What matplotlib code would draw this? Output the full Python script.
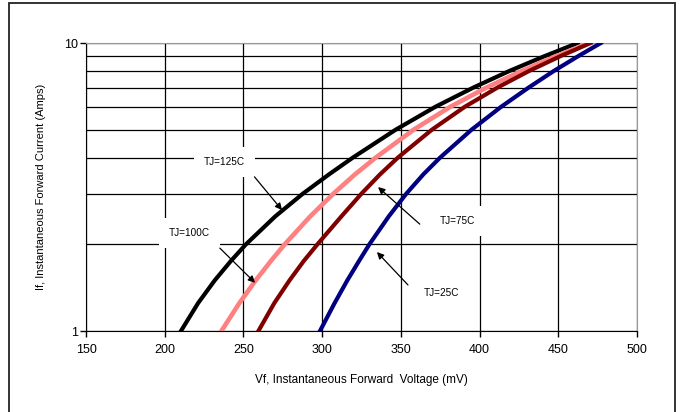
import matplotlib
matplotlib.use("Agg")
import matplotlib.pyplot as plt
from matplotlib.ticker import LogLocator, NullFormatter, FixedLocator
from matplotlib.patches import Rectangle

plt.rcParams['font.family'] = ['Liberation Sans', 'DejaVu Sans']

# forward current levels (A) and the voltage (mV) read for each curve
current = [1, 1.25, 1.5, 1.75, 2, 2.5, 3, 3.5, 4, 5, 6, 7, 8, 9, 10]
v_125 = [210.3, 221.2, 231.8, 242.0, 251.6, 270.2, 287.8, 304.4, 319.5,
         346.7, 371.8, 396.0, 419.0, 441.2, 462.3]
v_100 = [236.0, 247.4, 257.8, 267.4, 276.2, 292.4, 307.2, 320.9, 334.0,
         358.1, 381.3, 404.3, 426.7, 448.5, 469.6]
v_75 = [259.5, 269.6, 279.3, 288.3, 297.0, 312.2, 325.0, 336.8, 348.1,
        369.7, 390.5, 411.3, 431.5, 451.3, 470.5]
v_25 = [298.6, 307.9, 316.0, 323.4, 330.0, 342.3, 353.5, 364.3, 374.9,
        394.9, 413.6, 431.1, 447.2, 462.6, 477.0]

x_ticks = [150, 200, 250, 300, 350, 400, 450, 500]

fig = plt.figure(figsize=(6.8, 4.12), dpi=100)
ax = fig.add_axes([0.1265, 0.1966, 0.8103, 0.699])

# outer frame
fig.patches.append(Rectangle((9/680, -0.05), 666/680, 1.05 - 3/412,
                             transform=fig.transFigure, fill=False,
                             edgecolor='#222222', lw=1.3))

ax.set_yscale('log')
ax.set_xlim(150, 500)
ax.set_ylim(1, 10)
ax.xaxis.set_major_locator(FixedLocator(x_ticks))
ax.yaxis.set_major_locator(FixedLocator([1, 10]))
ax.yaxis.set_major_formatter(plt.FuncFormatter(lambda v, p: '%d' % v))
ax.yaxis.set_minor_locator(LogLocator(subs=range(2, 10)))
ax.yaxis.set_minor_formatter(NullFormatter())
ax.tick_params(axis='y', which='minor', length=0)
ax.tick_params(which='major', length=4, width=1, labelsize=9, pad=2)
ax.tick_params(axis='x', pad=5)

ax.grid(True, which='both', color='black', lw=0.9, zorder=1)
ax.set_axisbelow(True)
for s in ['top', 'right']:
    ax.spines[s].set_color('#999999')
for s in ['left', 'bottom']:
    ax.spines[s].set_color('black')

ax.plot(v_125, current, color='black', lw=3, zorder=3, solid_joinstyle='round')
ax.plot(v_100, current, color='#FF8080', lw=3.3, zorder=3, solid_joinstyle='round')
ax.plot(v_75, current, color='#800000', lw=3, zorder=3, solid_joinstyle='round')
ax.plot(v_25, current, color='#000080', lw=3, zorder=3, solid_joinstyle='round')

ax.set_xlabel('Vf, Instantaneous Forward  Voltage (mV)', fontsize=8.5, labelpad=13)
ax.set_ylabel('If, Instantaneous Forward Current (Amps)', fontsize=8, labelpad=13)

box = dict(boxstyle='square,pad=1.0', fc='white', ec='none')
labels = [('TJ=125C', 238, 3.86), ('TJ=100C', 215.7, 2.19),
          ('TJ=75C', 386, 2.41), ('TJ=25C', 376, 1.355)]
for t, x, y in labels:
    ax.text(x, y, t, fontsize=7.2, ha='center', va='center', bbox=box, zorder=2)

arrows = [((257, 3.43), (274.5, 2.63)), ((235, 1.94), (257.4, 1.47)),
          ((362, 2.35), (335.5, 3.16)), ((354.5, 1.445), (334.8, 1.88))]
for tail, head in arrows:
    ax.annotate('', xy=head, xytext=tail, zorder=4,
                arrowprops=dict(arrowstyle='-|>', color='black', lw=0.9,
                                mutation_scale=10, shrinkA=0, shrinkB=0))

fig.savefig('out.png', dpi=100)
